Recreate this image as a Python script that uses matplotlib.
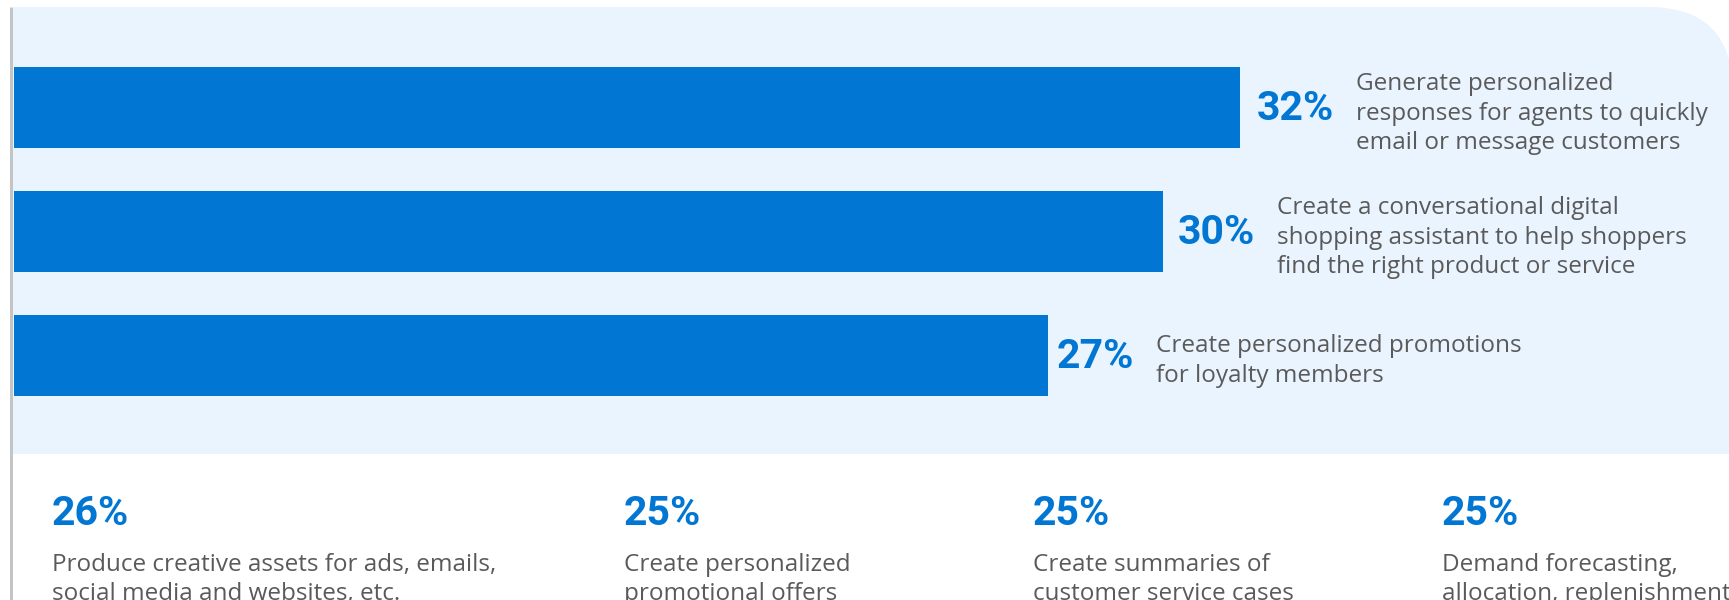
import matplotlib.pyplot as plt
from matplotlib.patches import PathPatch
from matplotlib.path import Path

# Datos
valores_barras = [32, 30, 27]
textos_barras = [
    "Generate personalized\nresponses for agents to quickly\nemail or message customers",
    "Create a conversational digital\nshopping assistant to help shoppers\nfind the right product or service",
    "Create personalized promotions\nfor loyalty members",
]
valores_abajo = [26, 25, 25, 25]
textos_abajo = [
    "Produce creative assets for ads, emails,\nsocial media and websites, etc.",
    "Create personalized\npromotional offers",
    "Create summaries of\ncustomer service cases",
    "Demand forecasting,\nallocation, replenishment",
]

AZUL = "#0176d3"
FONDO = "#eaf4fe"
GRIS = "#5a5a5a"
FUENTE_NUM = "Roboto"
FUENTE_TXT = "Open Sans"

W, H = 1729, 600
PX = 72 / 100  # pixeles -> puntos
INTERLINEA = 1.3

fig = plt.figure(figsize=(W / 100, H / 100), dpi=100)

# Capa de fondo en pixeles
bg = fig.add_axes([0, 0, 1, 1])
bg.set_xlim(0, W)
bg.set_ylim(H, 0)
bg.axis("off")

# Panel azul claro con esquina superior derecha redondeada
x0, x1, y0, y1, r = 13, 1733, 7, 454, 85
verts = [(x0, y1), (x0, y0), (x1 - r, y0), (x1, y0), (x1, y0 + r), (x1, y1), (x0, y1)]
codes = [Path.MOVETO, Path.LINETO, Path.LINETO, Path.CURVE3, Path.CURVE3,
         Path.LINETO, Path.CLOSEPOLY]
bg.add_patch(PathPatch(Path(verts, codes), fc=FONDO, ec="none"))
bg.plot([11.5, 11.5], [7, H], color="#c4c4c4", lw=3 * PX, solid_capstyle="butt")

# Barras horizontales (eje x en %)
ax = fig.add_axes([14 / W, 0, 1 - 14 / W, 1])
ax.patch.set_alpha(0)
ax.set_xlim(0, (W - 14) / 38.3)
ax.set_ylim(H, 0)
ax.axis("off")

centros = [107.5, 231.5, 355]
separacion = [17, 15, 9]
ax.barh(centros, valores_barras, height=81, color=AZUL)

for v, yc, sep, txt in zip(valores_barras, centros, separacion, textos_barras):
    ax.annotate(f"{v}%", (v, yc), xytext=(sep * PX, -13 * PX),
                textcoords="offset points", ha="left", va="baseline",
                fontsize=29.5, fontweight="bold", color=AZUL, family=FUENTE_NUM)
    ax.annotate(txt, (v, yc), xytext=((sep + 99) * PX, -6 * PX),
                textcoords="offset points", ha="left", va="center",
                fontsize=17.5, color=GRIS, family=FUENTE_TXT,
                linespacing=INTERLINEA)

# Estadisticas de abajo (va="baseline" toma la ultima linea)
col_x = [52, 624, 1033, 1442]
for x, v, txt in zip(col_x, valores_abajo, textos_abajo):
    bg.text(x, 525, f"{v}%", ha="left", va="baseline", fontsize=29.5,
            fontweight="bold", color=AZUL, family=FUENTE_NUM)
    bg.text(x, 600, txt, ha="left", va="baseline", fontsize=17.5,
            color=GRIS, family=FUENTE_TXT, linespacing=INTERLINEA)

fig.savefig("out.png", dpi=100)
